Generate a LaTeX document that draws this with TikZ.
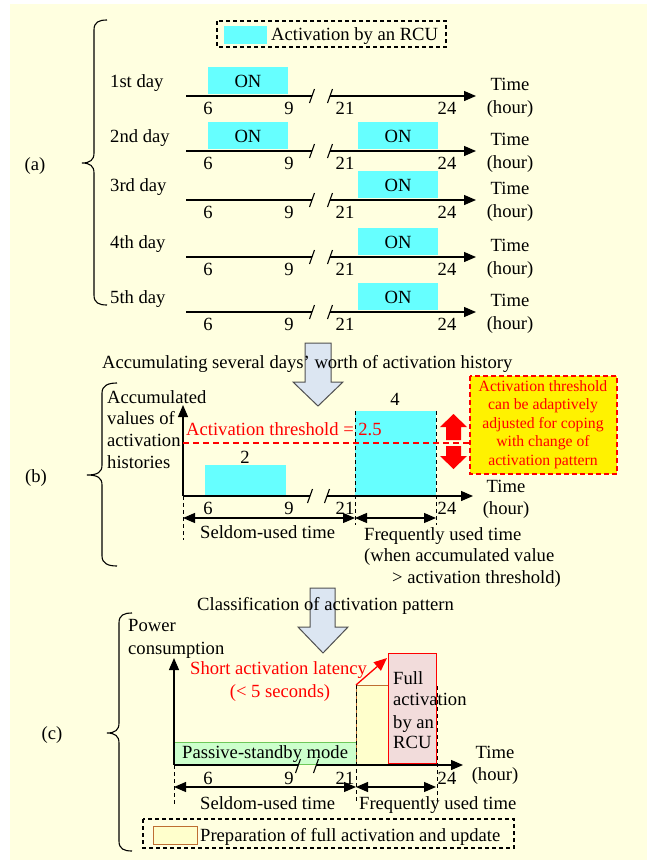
\documentclass[tikz,border=0pt]{standalone}
\usepackage{fontspec}
\setmainfont{Liberation Serif}
\usetikzlibrary{arrows.meta}

\definecolor{bgyellow}{RGB}{255,255,224}
\definecolor{oncyan}{RGB}{102,255,255}
\definecolor{blockfill}{RGB}{220,230,242}
\definecolor{blockline}{RGB}{80,80,80}
\definecolor{standbyfill}{RGB}{204,255,204}
\definecolor{standbyline}{RGB}{110,200,90}
\definecolor{prepfill}{RGB}{255,255,204}
\definecolor{prepline}{RGB}{190,110,50}
\definecolor{fullfill}{RGB}{242,220,219}

\newcommand\mainsz{\fontsize{18.6}{21.8}\selectfont}
\newcommand\notesz{\fontsize{15.7}{18.5}\selectfont}

\tikzset{
  txt/.style={inner sep=0pt, anchor=base},
  txtl/.style={inner sep=0pt, anchor=base west},
  axisline/.style={line width=1.3pt, -{Triangle[length=12pt,width=10pt]}},
  plainline/.style={line width=1.3pt},
  breakmark/.style={line width=1.1pt},
  spanarrow/.style={line width=1.2pt, {Triangle[length=12pt,width=10pt]}-{Triangle[length=12pt,width=10pt]}},
  guide/.style={line width=0.9pt, dash pattern=on 4pt off 3pt},
  legendbox/.style={line width=1.4pt, dash pattern=on 4pt off 3pt},
  blockarrow/.style={fill=blockfill, draw=blockline, line width=1pt},
  bracket/.style={line width=1.1pt},
  threshold/.style={red, line width=1.1pt, dash pattern=on 6pt off 4pt},
}

\begin{document}
\begin{tikzpicture}[x=1pt, y=-1pt, font=\mainsz]
\useasboundingbox (0,0) rectangle (647,860);
\fill[bgyellow] (10,4) rectangle (647,860);

% ================= (a) daily activation records =================
\draw[legendbox] (217,21) rectangle (446,47);
\fill[oncyan] (224,26) rectangle (267,44);
\node[txtl] (legon) at (271,40) {Activation by an RCU};

\foreach \ay/\lab/\mor/\eve [count=\i] in
  {96/1st day/1/1, 151/2nd day/1/2, 200/3rd day/0/2, 257/4th day/0/2, 312/5th day/0/2} {
  \ifnum\mor=1
    \fill[oncyan] (208,\ay-29) rectangle (288,\ay-2);
    \node[txt] (onm\i) at (248,\ay-9) {ON};
  \fi
  \ifnum\eve=2
    \fill[oncyan] (358,\ay-29) rectangle (438,\ay-2);
    \node[txt] (one\i) at (398,\ay-9) {ON};
  \fi
  \node[txtl] (day\i) at (110,\ay-9) {\lab};
  \coordinate (as\i) at (186,\ay);
  \coordinate (bl\i) at (312,\ay);
  \coordinate (br\i) at (330,\ay);
  \coordinate (ae\i) at (476,\ay);
  \draw[plainline] (as\i) -- (bl\i);
  \draw[axisline] (br\i) -- (ae\i);
  \draw[breakmark] (312-2.5,\ay+7) -- (312+2.5,\ay-7);
  \draw[breakmark] (330-2.5,\ay+7) -- (330+2.5,\ay-7);
  \node[txt] (ta\i) at (208,\ay+18) {6};
  \node[txt] (tb\i) at (289,\ay+18) {9};
  \node[txt] (tc\i) at (345,\ay+18) {21};
  \node[txt] (td\i) at (447,\ay+18) {24};
  \node[txt] (tm\i) at (510,\ay-6) {Time};
  \node[txt] (hr\i) at (510,\ay+17) {(hour)};
}

\draw[bracket] (107,20) .. controls (99,20) and (94,22) .. (94,30) -- (94,153)
  .. controls (94,160) and (90,163) .. (82,163)
  .. controls (90,163) and (94,166) .. (94,173) -- (94,295)
  .. controls (94,303) and (99,305) .. (107,305);
\node[txt] (laba) at (35,170) {(a)};

% ================= step arrow 1 =================
\filldraw[blockarrow] (305,343) -- (331,343) -- (331,382) -- (343,382) -- (318,406)
  -- (293,382) -- (305,382) -- cycle;
\node[txtl] (accum) at (102,368) {Accumulating several days’ worth of activation history};

% ================= (b) accumulated histories =================
\fill[oncyan] (205,465) rectangle (286,496);
\fill[oncyan] (355,411) rectangle (436,496);
\node[txt] (cnt2) at (245,463) {2};
\node[txt] (cnt4) at (395,405) {4};

\coordinate (bo) at (183,496);
\coordinate (btop) at (183,405);
\coordinate (bbl) at (310,496);
\coordinate (bbr) at (327,496);
\coordinate (bend) at (473,496);
\draw[axisline] (bo) -- (btop);
\draw[plainline] (bo) -- (bbl);
\draw[axisline] (bbr) -- (bend);
\draw[breakmark] (310-2.5,503) -- (310+2.5,489);
\draw[breakmark] (327-2.5,503) -- (327+2.5,489);
\draw[guide] (183,496) -- (183,540);
\draw[guide] (355,411) -- (355,525);
\draw[guide] (436,411) -- (436,525);

\draw[threshold] (183,443) -- (470,443);
\node[txtl, red] (thr) at (186,435) {Activation threshold = 2.5};

\node[txt] (btA) at (208,514) {6};
\node[txt] (btB) at (289,514) {9};
\node[txt] (btC) at (345,514) {21};
\node[txt] (btD) at (447,514) {24};
\node[txt] (btm) at (506,492) {Time};
\node[txt] (bhr) at (506,514) {(hour)};

\coordinate (bs0) at (183,518);
\coordinate (bs1) at (355,518);
\coordinate (bs2) at (436,518);
\draw[spanarrow] (bs0) -- (bs1);
\draw[spanarrow] (bs1) -- (bs2);
\node[txtl] (bseld) at (200,538) {Seldom-used time};
\node[txtl] (bfreq1) at (364,540) {Frequently used time};
\node[txtl] (bfreq2) at (364,561) {(when accumulated value};
\node[txtl] (bfreq3) at (392,583) {> activation threshold)};

% adjustable threshold marker
\fill[red] (446,440) -- (446,427) -- (440,427) -- (453.5,414) -- (467,427) -- (461,427) -- (461,440) -- cycle;
\fill[red] (446,446) -- (461,446) -- (461,456) -- (467,456) -- (453.5,469) -- (440,456) -- (446,456) -- cycle;

\draw[red, fill=yellow, line width=1.5pt, dash pattern=on 5pt off 3pt] (470,376) rectangle (617,474);
\begin{scope}[font=\notesz, red]
  \node[txt] (n1) at (543,391) {Activation threshold};
  \node[txt] (n2) at (543,409) {can be adaptively};
  \node[txt] (n3) at (543,428) {adjusted for coping};
  \node[txt] (n4) at (543,446) {with change of};
  \node[txt] (n5) at (543,465) {activation pattern};
\end{scope}

\node[txtl] (bax1) at (107,403) {Accumulated};
\node[txtl] (bax2) at (107,424) {values of};
\node[txtl] (bax3) at (107,446) {activation};
\node[txtl] (bax4) at (107,468) {histories};

\draw[bracket] (117,383) .. controls (109,383) and (102,385) .. (102,393) -- (102,465)
  .. controls (102,472) and (98,475) .. (87,475)
  .. controls (98,475) and (102,478) .. (102,485) -- (102,556)
  .. controls (102,564) and (109,566) .. (117,566);
\node[txt] (labb) at (36,482) {(b)};

% ================= step arrow 2 =================
\filldraw[blockarrow] (310,588) -- (335,588) -- (335,627) -- (348,627) -- (323,653)
  -- (298,627) -- (310,627) -- cycle;
\node[txtl] (classif) at (197,610) {Classification of activation pattern};

% ================= (c) power consumption =================
\draw[fill=standbyfill, draw=standbyline, line width=1pt] (174,742) rectangle (356,764);
\node[txtl] (standby) at (182,758) {Passive-standby mode};
\draw[fill=prepfill, draw=prepline, line width=1pt] (356,685) rectangle (436,764);
\draw[fill=fullfill, draw=red, line width=1pt] (388,653) rectangle (436,763);

\coordinate (co) at (174,765);
\coordinate (ctop) at (174,658);
\coordinate (cbl) at (298,765);
\coordinate (cbr) at (316,765);
\coordinate (cend) at (463,765);
\draw[axisline] (co) -- (ctop);
\draw[plainline] (co) -- (cbl);
\draw[axisline] (cbr) -- (cend);
\draw[breakmark] (298-2.5,773) -- (298+2.5,759);
\draw[breakmark] (316-2.5,773) -- (316+2.5,759);
\draw[guide] (174,765) -- (174,804);
\draw[guide] (356,685) -- (356,803);
\draw[guide] (437,686) -- (437,803);

\coordinate (lat0) at (356,685);
\coordinate (lat1) at (387,658);
\draw[red, line width=1.3pt, -{Triangle[length=13pt,width=11pt]}] (lat0) -- (lat1);
\node[txtl, red] (lat) at (190,674) {Short activation latency};
\node[txt, red] (latv) at (280,697) {(< 5 seconds)};

\node[txtl] (full1) at (393,684) {Full};
\node[txtl] (full2) at (393,705) {activation};
\node[txtl] (full3) at (393,728) {by an};
\node[txtl] (full4) at (393,748) {RCU};

\node[txtl] (pw1) at (128,631) {Power};
\node[txtl] (pw2) at (128,654) {consumption};

\node[txt] (ctA) at (208,784) {6};
\node[txt] (ctB) at (289,784) {9};
\node[txt] (ctC) at (345,784) {21};
\node[txt] (ctD) at (447,784) {24};
\node[txt] (ctm) at (495,758) {Time};
\node[txt] (chr) at (495,780) {(hour)};

\coordinate (cs0) at (174,787);
\coordinate (cs1) at (356,787);
\coordinate (cs2) at (436,787);
\draw[spanarrow] (cs0) -- (cs1);
\draw[spanarrow] (cs1) -- (cs2);
\node[txtl] (cseld) at (200,809) {Seldom-used time};
\node[txtl] (cfreq) at (359,809) {Frequently used time};

\draw[legendbox] (143,819) rectangle (514,848);
\draw[fill=prepfill, draw=prepline, line width=1pt] (153,826) rectangle (197,844);
\node[txtl] (legprep) at (200,841) {Preparation of full activation and update};

\draw[bracket] (132,613) .. controls (124,613) and (119,615) .. (119,623) -- (119,723)
  .. controls (119,730) and (115,733) .. (107,733)
  .. controls (115,733) and (119,736) .. (119,743) -- (119,841)
  .. controls (119,849) and (124,851) .. (132,851);
\node[txt] (labc) at (52,739) {(c)};
\end{tikzpicture}
\end{document}
